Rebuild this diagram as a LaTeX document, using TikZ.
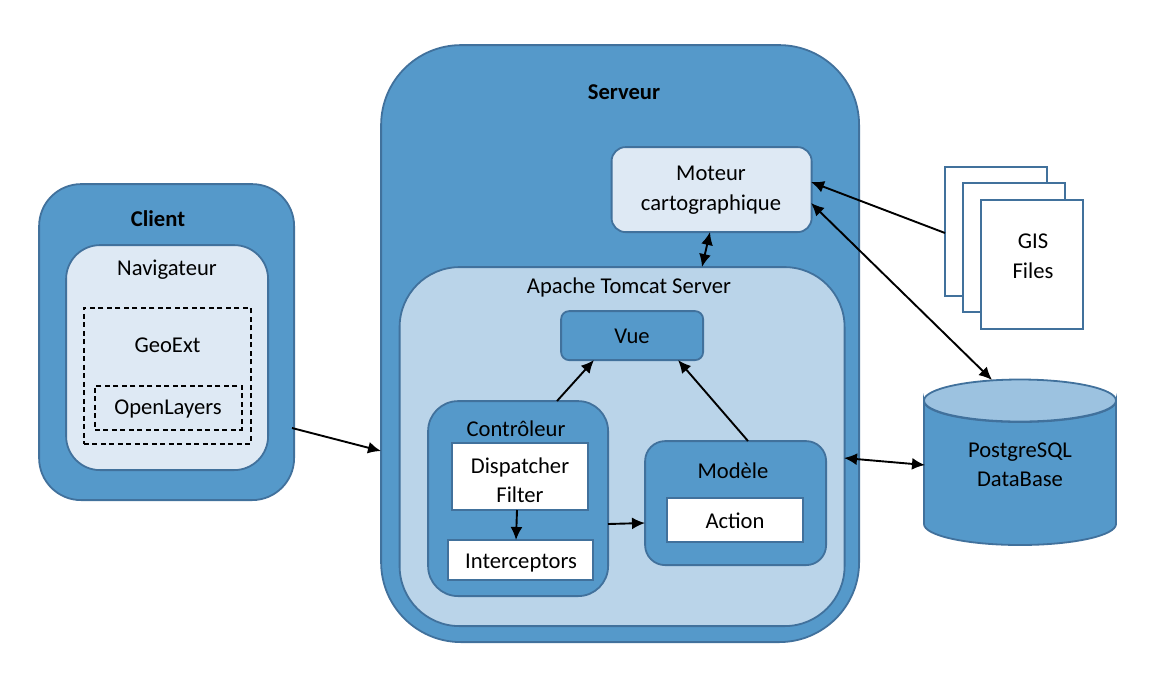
\documentclass[tikz,border=0pt]{standalone}
\usepackage{fontspec}
\setmainfont{Carlito}
\usetikzlibrary{arrows.meta,shapes.geometric}
\definecolor{bluedark}{HTML}{5599CA}
\definecolor{bluemid}{HTML}{BAD4E9}
\definecolor{bluelight}{HTML}{DEE9F4}
\definecolor{blueedge}{HTML}{41719C}
\definecolor{cyltop}{HTML}{9CC2E0}
\tikzset{
  x=1pt,y=-1pt,
  boxbase/.style={draw=blueedge,line width=1.8pt,anchor=north west,inner sep=0pt,align=center,xshift=-0.8pt,yshift=0.8pt,font=\fontsize{22.6}{29.5}\selectfont},
  whitebox/.style={boxbase,fill=white,rounded corners=0pt},
  dashbox/.style={draw=black,line width=1.5pt,dash pattern=on 5pt off 3.5pt,anchor=north west,inner sep=0pt,xshift=-0.8pt,yshift=0.8pt},
  lab/.style={font=\fontsize{22.6}{29.5}\selectfont,align=center,inner sep=0pt},
  blab/.style={lab,font=\fontsize{22.6}{29.5}\selectfont\bfseries},
  conn/.style={draw=black,line width=1.9pt,-{Latex[length=13pt,width=12pt]}},
  dconn/.style={draw=black,line width=1.9pt,{Latex[length=13pt,width=12pt]}-{Latex[length=13pt,width=12pt]}},
}
\newcommand{\rbox}[8]{% name, x, y, w, h, radius, fill, text
  \node[boxbase,fill=#7,rounded corners=#6pt,minimum width=#4pt,minimum height=#5pt] (#1) at (#2,#3) {#8};}
\begin{document}
\begin{tikzpicture}
\useasboundingbox (0,0) rectangle (1158,681);
\fill[white] (0,0) rectangle (1158,681);
% Client
\rbox{client}{39}{184}{255}{316}{42}{bluedark}{}
\node[blab] (clientl) at (158,219) {Client};
\rbox{nav}{66}{245}{202}{225}{34}{bluelight}{}
\node[lab] (navl) at (167,270) {Navigateur};
\node[dashbox,minimum width=167pt,minimum height=136pt] (geo) at (84,308) {};
\node[lab] (geol) at (167.5,345) {GeoExt};
\node[dashbox,minimum width=147pt,minimum height=44pt] (ol) at (95,386) {};
\node[lab] (oll) at (168,409) {OpenLayers};
% Serveur
\rbox{srv}{381}{45}{478}{597}{80}{bluedark}{}
\node[blab] (srvl) at (624,92) {Serveur};
\rbox{mot}{611.5}{147}{200}{85}{14}{bluelight}{}
\node[lab] (motl) at (711,190) {Moteur\\cartographique};
\rbox{tom}{399.5}{267}{445}{359}{60}{bluemid}{}
\node[lab] (toml) at (629,287) {Apache Tomcat Server};
\rbox{vue}{561}{311}{142}{49}{8}{bluedark}{}
\node[lab] (vuel) at (632,336) {Vue};
\rbox{ctl}{428}{401}{180}{195}{30}{bluedark}{}
\node[lab] (ctll) at (516,429) {Contrôleur};
\node[whitebox,minimum width=136pt,minimum height=67pt] (disp) at (452,443) {};
\node[lab] (displ) at (520,480) {Dispatcher\\Filter};
\node[whitebox,minimum width=145pt,minimum height=40pt] (inter) at (448,540) {};
\node[lab] (interl) at (521,563) {Interceptors};
\rbox{mod}{645}{441}{181}{124}{20}{bluedark}{}
\node[lab] (modl) at (733,471) {Modèle};
\node[whitebox,minimum width=136pt,minimum height=44pt] (act) at (667,498) {};
\node[lab] (actl) at (735,521) {Action};
% GIS files
\node[whitebox,minimum width=102pt,minimum height=129pt] (f1) at (945,167) {};
\node[whitebox,minimum width=102pt,minimum height=129pt] (f2) at (963,183) {};
\node[whitebox,minimum width=102pt,minimum height=129pt] (f3) at (981,200) {};
\node[lab] (f3l) at (1033,256) {GIS\\Files};
% DB
\path[draw=blueedge,fill=bluedark,line width=1.8pt] (924,401) -- (924,524) arc[start angle=180,end angle=360,x radius=96,y radius=-21] -- (1116,401) arc[start angle=0,end angle=-180,x radius=96,y radius=-21] -- cycle;
\path[draw=blueedge,fill=cyltop,line width=1.8pt] (1020,400.5) ellipse[x radius=96,y radius=21];
\node[lab] (db) at (1020,464.5) {PostgreSQL\\DataBase};
\coordinate (dbtop) at (992,380);
\coordinate (dbleft) at (925,465);
% Connectors
\coordinate (a1) at (292,428); \coordinate (a2) at (381,451);
\draw[conn] (a1) -- (a2);
\coordinate (b1) at (945,233); \coordinate (b2) at (811,182);
\draw[conn] (b1) -- (b2);
\coordinate (c1) at (811,203);
\draw[dconn] (c1) -- (dbtop);
\coordinate (d1) at (844,458);
\draw[dconn] (d1) -- (dbleft);
\coordinate (e1) at (710,232); \coordinate (e2) at (702,267);
\draw[dconn] (e1) -- (e2);
\coordinate (f1a) at (557,401); \coordinate (f2a) at (594,360);
\draw[conn] (f1a) -- (f2a);
\coordinate (g1) at (748,441); \coordinate (g2) at (678,360);
\draw[conn] (g1) -- (g2);
\coordinate (h1) at (517,510); \coordinate (h2) at (516,540);
\draw[conn] (h1) -- (h2);
\coordinate (i1) at (608,524); \coordinate (i2) at (645,523);
\draw[conn] (i1) -- (i2);
\end{tikzpicture}
\end{document}
